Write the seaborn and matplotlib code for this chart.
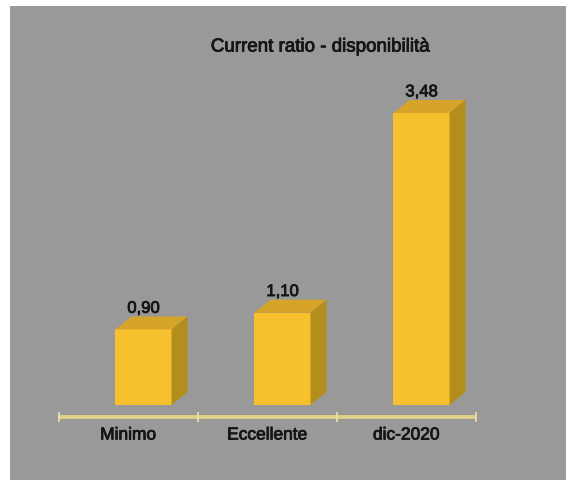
import matplotlib
matplotlib.use("Agg")
import matplotlib.pyplot as plt
import matplotlib.patheffects as pe
from matplotlib.patches import Polygon, Rectangle
import seaborn as sns
import pandas as pd

categories = ["Minimo", "Eccellente", "dic-2020"]
values = [0.90, 1.10, 3.48]
value_labels = ["0,90", "1,10", "3,48"]
title = "Current ratio - disponibilità"

plt.rcParams["font.family"] = ["Liberation Sans", "DejaVu Sans"]

FRONT = "#F6C02E"
TOP = "#D6A428"
SIDE = "#B48E1C"
BG = "#999999"
TXT = "#151515"
thick = [pe.withStroke(linewidth=0.6, foreground=TXT)]

W, H, DPI = 566, 480, 100
fig = plt.figure(figsize=(W / DPI, H / DPI), dpi=DPI, facecolor="white")
ax = fig.add_axes([0, 0, 1, 1])
ax.set_facecolor("none")
ax.add_patch(Rectangle((10 / W, 0), 1 - 10 / W, 474 / H,
                       transform=fig.transFigure, facecolor=BG,
                       edgecolor="none", zorder=0))

df = pd.DataFrame({"cat": categories, "val": values})
sns.barplot(data=df, x="cat", y="val", color=FRONT, saturation=1,
            width=0.403, edgecolor="none", ax=ax, zorder=3)

px_x = 139.0   # pixels per category unit
px_y = 83.9    # pixels per value unit
ax.set_xlim(-143.5 / px_x, (W - 143.5) / px_x)
ax.set_ylim(-(H - 405) / px_y, 405 / px_y)
ax.axis("off")

dx = 16 / px_x
dy = 13 / px_y
bars = [p for p in ax.patches if p.get_facecolor()[3] > 0 and p.get_zorder() == 3]
for p, lab in zip(bars, value_labels):
    x0 = p.get_x()
    w = p.get_width()
    h = p.get_height()
    x1 = x0 + w
    top = Polygon([(x0, h), (x1, h), (x1 + dx, h + dy), (x0 + dx, h + dy)],
                  closed=True, facecolor=TOP, edgecolor="none", zorder=3)
    side = Polygon([(x1, 0), (x1 + dx, dy), (x1 + dx, h + dy), (x1, h)],
                   closed=True, facecolor=SIDE, edgecolor="none", zorder=3)
    ax.add_patch(top)
    ax.add_patch(side)
    ax.annotate(lab, (x0 + w / 2, h + dy), xytext=(0, 0.5),
                textcoords="offset points", ha="center", va="bottom",
                fontsize=12, color=TXT, zorder=5, path_effects=thick)

# floor front edge (category axis)
shift = -0.11
line_y = -12 / px_y
n = len(categories)
ax.plot([-0.5 + shift - 0.005, n - 0.5 + shift], [line_y, line_y],
        color="#DDD088", lw=2.8, solid_capstyle="butt", zorder=4)
ticks = [i - 0.5 + shift for i in range(n + 1)]
ax.plot(ticks, [line_y] * len(ticks), linestyle="none", marker="|",
        markersize=7, markeredgewidth=1.2, color="#EDE3A8", zorder=4)
for i, c in enumerate(categories):
    ax.text(i + shift, -30 / px_y, c, ha="center", va="center",
            fontsize=12.5, color=TXT, zorder=5, path_effects=thick)

fig.text(320 / W, 1 - 47 / H, title, ha="center", va="center",
         fontsize=13.5, color=TXT, path_effects=thick)

fig.savefig("out.png", dpi=DPI, facecolor="white")
